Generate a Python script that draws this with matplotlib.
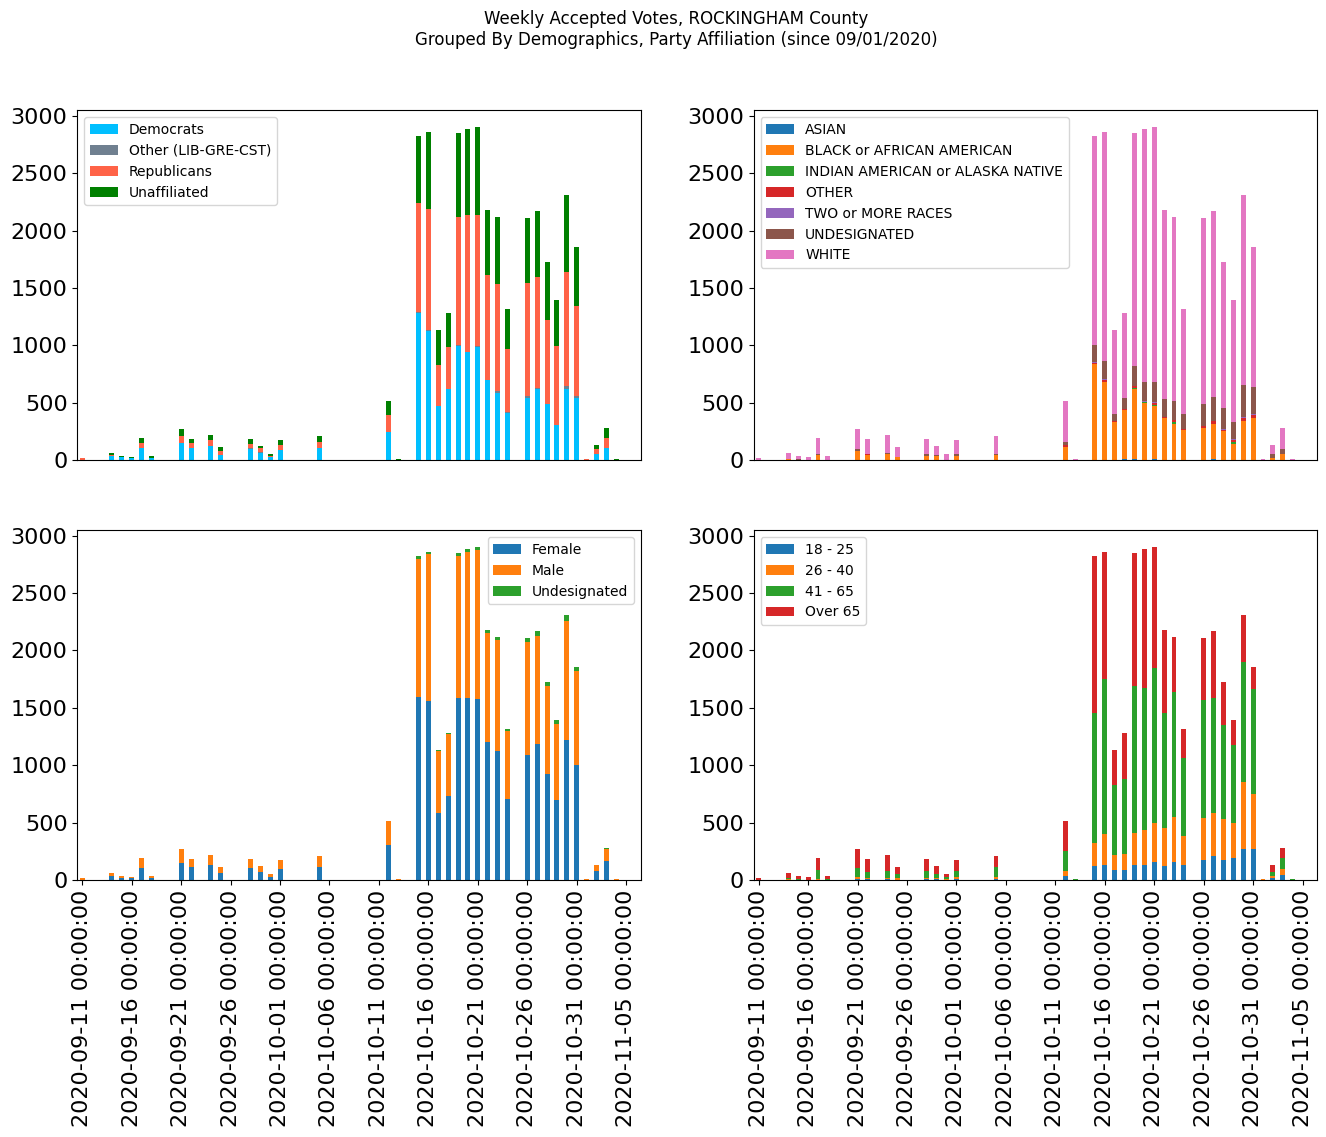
import matplotlib
matplotlib.use('Agg')
import matplotlib.pyplot as plt
import pandas as pd

# days with accepted votes (all other days in range are zero)
vote_days = ['2020-09-11', '2020-09-14', '2020-09-15', '2020-09-16', '2020-09-17', '2020-09-18',
	'2020-09-21', '2020-09-22', '2020-09-24', '2020-09-25', '2020-09-28', '2020-09-29',
	'2020-09-30', '2020-10-01', '2020-10-05', '2020-10-12', '2020-10-13', '2020-10-15',
	'2020-10-16', '2020-10-17', '2020-10-18', '2020-10-19', '2020-10-20', '2020-10-21',
	'2020-10-22', '2020-10-23', '2020-10-24', '2020-10-26', '2020-10-27', '2020-10-28',
	'2020-10-29', '2020-10-30', '2020-10-31', '2020-11-01', '2020-11-02', '2020-11-03',
	'2020-11-04']

# party affiliation
democrats = [5, 40, 26, 17, 102, 17, 148, 107, 125, 44, 97, 62, 26, 90, 107, 247, 2, 1280, 1125, 473,
	619, 995, 940, 985, 700, 587, 410, 543, 618, 488, 302, 618, 543, 0, 52, 107, 2]
other_party = [0, 0, 0, 0, 0, 0, 0, 0, 0, 0, 5, 5, 0, 0, 0, 0, 0, 10, 8, 3,
	0, 4, 0, 5, 0, 14, 8, 18, 12, 3, 3, 30, 18, 0, 0, 0, 0]
republicans = [10, 6, 0, 0, 46, 3, 61, 41, 49, 34, 40, 38, 9, 44, 50, 148, 0, 949, 1054, 352,
	366, 1118, 1199, 1145, 912, 933, 552, 981, 965, 729, 688, 990, 781, 8, 44, 85, 1]
unaffiliated = [0, 15, 9, 9, 44, 15, 61, 35, 44, 35, 41, 17, 17, 40, 52, 119, 7, 584, 671, 305,
	296, 732, 741, 767, 566, 583, 343, 567, 575, 505, 401, 671, 514, 1, 35, 87, 6]

# race
asian = [0, 0, 0, 0, 0, 0, 0, 0, 0, 0, 0, 0, 0, 0, 0, 0, 0, 5, 3, 3,
	8, 8, 5, 8, 3, 5, 5, 3, 8, 5, 3, 5, 3, 0, 0, 0, 0]
black = [2, 8, 3, 3, 44, 5, 81, 44, 52, 26, 35, 38, 3, 38, 41, 116, 0, 830, 677, 328,
	428, 611, 492, 468, 363, 312, 256, 276, 311, 248, 142, 335, 363, 0, 17, 50, 0]
indian = [0, 0, 0, 0, 0, 0, 0, 0, 0, 0, 0, 0, 0, 0, 0, 0, 0, 5, 3, 0,
	0, 8, 8, 3, 3, 14, 0, 3, 0, 0, 12, 0, 0, 0, 0, 0, 0]
other_race = [0, 5, 0, 0, 0, 0, 0, 8, 0, 0, 0, 0, 0, 0, 8, 12, 0, 10, 15, 9,
	8, 15, 5, 15, 5, 15, 10, 15, 20, 12, 17, 26, 26, 0, 0, 5, 0]
two_races = [0, 0, 0, 0, 0, 0, 0, 0, 0, 0, 0, 0, 0, 0, 0, 0, 0, 8, 5, 3,
	3, 6, 5, 11, 3, 5, 3, 3, 5, 8, 9, 9, 12, 0, 0, 0, 0]
undes_race = [0, 0, 3, 0, 8, 0, 17, 0, 12, 0, 17, 4, 0, 15, 8, 29, 0, 145, 160, 58,
	93, 171, 165, 175, 157, 163, 127, 189, 210, 180, 148, 279, 232, 0, 35, 40, 0]
white = [13, 48, 29, 23, 140, 30, 172, 131, 154, 87, 131, 80, 49, 121, 152, 357, 9, 1820, 1995, 732,
	741, 2030, 2200, 2222, 1644, 1603, 912, 1620, 1616, 1272, 1063, 1655, 1220, 9, 79, 184, 9]

# gender
female = [3, 38, 20, 20, 107, 20, 151, 116, 131, 64, 107, 73, 29, 99, 116, 308, 0, 1595, 1560, 587,
	732, 1586, 1586, 1577, 1205, 1127, 706, 1089, 1185, 924, 697, 1220, 1002, 0, 78, 166, 0]
male = [12, 23, 15, 6, 85, 15, 119, 67, 87, 49, 76, 49, 23, 75, 93, 206, 9, 1202, 1281, 537,
	540, 1240, 1268, 1298, 947, 964, 592, 985, 941, 769, 662, 1037, 819, 9, 53, 104, 9]
undes_gender = [0, 0, 0, 0, 0, 0, 0, 0, 0, 0, 0, 0, 0, 0, 0, 0, 0, 26, 17, 9,
	9, 23, 26, 27, 26, 26, 15, 35, 44, 32, 35, 52, 35, 0, 0, 9, 0]

# age groups
age_18_25 = [0, 3, 0, 0, 3, 0, 6, 5, 6, 3, 5, 5, 3, 6, 6, 38, 0, 125, 134, 90,
	90, 134, 134, 160, 125, 160, 134, 177, 209, 177, 195, 270, 270, 0, 17, 44, 0]
age_26_40 = [0, 3, 3, 0, 5, 0, 23, 15, 14, 17, 15, 15, 9, 23, 23, 43, 0, 197, 270, 131,
	139, 278, 305, 337, 328, 389, 252, 366, 375, 354, 302, 587, 482, 9, 18, 52, 0]
age_41_65 = [3, 14, 6, 3, 82, 9, 78, 53, 61, 35, 61, 32, 17, 52, 87, 172, 9, 1133, 1347, 607,
	651, 1281, 1237, 1353, 1002, 1089, 680, 1028, 1005, 820, 679, 1043, 912, 0, 38, 99, 9]
age_over_65 = [12, 41, 26, 23, 102, 26, 163, 110, 137, 58, 102, 70, 23, 93, 93, 261, 0, 1368, 1107, 305,
	401, 1156, 1204, 1052, 723, 479, 247, 538, 581, 374, 218, 409, 192, 0, 58, 84, 0]

full_range = pd.date_range('2020-09-11', '2020-11-06', freq='D')


def make_frame(columns):
	df = pd.DataFrame(columns, index=pd.to_datetime(vote_days))
	return df.reindex(full_range, fill_value=0)


party_df = make_frame({'Democrats': democrats, 'Other (LIB-GRE-CST)': other_party,
	'Republicans': republicans, 'Unaffiliated': unaffiliated})
race_df = make_frame({'ASIAN': asian, 'BLACK or AFRICAN AMERICAN': black,
	'INDIAN AMERICAN or ALASKA NATIVE': indian, 'OTHER': other_race,
	'TWO or MORE RACES': two_races, 'UNDESIGNATED': undes_race, 'WHITE': white})
gender_df = make_frame({'Female': female, 'Male': male, 'Undesignated': undes_gender})
age_df = make_frame({'18 - 25': age_18_25, '26 - 40': age_26_40, '41 - 65': age_41_65,
	'Over 65': age_over_65})

fig, axes = plt.subplots(2, 2, figsize=(13.26, 11.37), dpi=100)
fig.subplots_adjust(left=0.0583, right=0.9935, top=0.903, bottom=0.226, wspace=0.2, hspace=0.2)

party_colors = ['deepskyblue', 'slategray', 'tomato', 'green']
party_df.plot(kind='bar', stacked=True, ax=axes[0][0], color=party_colors, fontsize=16)
race_df.plot(kind='bar', stacked=True, ax=axes[0][1], fontsize=16)
gender_df.plot(kind='bar', stacked=True, ax=axes[1][0], fontsize=16)
age_df.plot(kind='bar', stacked=True, ax=axes[1][1], fontsize=16)

tick_pos = list(range(0, len(full_range), 5))
tick_labels = [str(full_range[i]) for i in tick_pos]

for ax in axes[0]:
	ax.set_xticks([])
	ax.set_xlabel('')
for ax in axes[1]:
	ax.set_xticks(tick_pos)
	ax.set_xticklabels(tick_labels, rotation=90, fontsize=16)
	ax.set_xlabel('')

for ax in axes.flat:
	ax.set_yticks(range(0, 3001, 500))

axes[0][0].legend(loc='upper left')
axes[0][1].legend(loc='upper left')
axes[1][0].legend(loc='upper right')
axes[1][1].legend(loc='upper left')

fig.suptitle('Weekly Accepted Votes, ROCKINGHAM County\nGrouped By Demographics, Party Affiliation (since 09/01/2020)',
	x=0.51, y=0.991, fontsize=12)

fig.savefig('out.png', dpi=100)
